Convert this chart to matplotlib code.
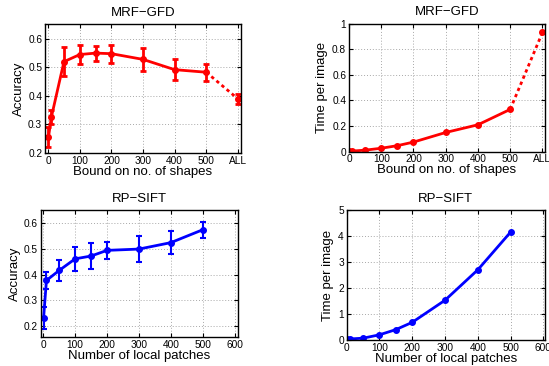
import matplotlib
matplotlib.use("Agg")
import matplotlib.pyplot as plt
import numpy as np

plt.rcParams['font.family'] = ['Liberation Sans', 'DejaVu Sans']

# MRF-GFD (top row)
mrf_x = [1, 10, 50, 100, 150, 200, 300, 400, 500]
mrf_all_x = 600
mrf_acc = [0.255, 0.325, 0.52, 0.545, 0.55, 0.548, 0.528, 0.492, 0.483]
mrf_acc_err = [0.035, 0.025, 0.05, 0.034, 0.026, 0.032, 0.04, 0.037, 0.03]
mrf_acc_all = 0.39
mrf_acc_all_err = 0.017
mrf_time = [0.003, 0.005, 0.012, 0.027, 0.047, 0.075, 0.15, 0.21, 0.33]
mrf_time_all = 0.93
mrf_xticks = [0, 100, 200, 300, 400, 500, 600]
mrf_xticklabels = ['0', '100', '200', '300', '400', '500', 'ALL']

# RP-SIFT (bottom row)
rp_x = [1, 10, 50, 100, 150, 200, 300, 400, 500]
rp_acc = [0.232, 0.378, 0.417, 0.462, 0.473, 0.495, 0.5, 0.525, 0.575]
rp_acc_err = [0.042, 0.033, 0.042, 0.046, 0.05, 0.033, 0.049, 0.045, 0.03]
rp_time = [0.03, 0.04, 0.07, 0.2, 0.4, 0.68, 1.53, 2.7, 4.15]
rp_xticks = [0, 100, 200, 300, 400, 500, 600]

W, H = 549, 366
fig = plt.figure(figsize=(W / 100, H / 100), dpi=100)

def ax_px(l, r, t, b):
    return fig.add_axes([l / W, (H - b) / H, (r - l) / W, (b - t) / H])

def style(ax):
    ax.grid(True, linestyle=(0, (1, 2)), color='#a8a8a8', linewidth=0.7)
    ax.tick_params(direction='in', length=3, width=0.8, top=True, right=True,
                   labelsize=7.3, pad=2)
    for s in ax.spines.values():
        s.set_linewidth(1.0)

title_fs = 9.5
label_fs = 9.5

# Top-left
ax = ax_px(45, 241, 24, 153)
ax.errorbar(mrf_x, mrf_acc, yerr=mrf_acc_err, color='red', lw=2, elinewidth=2,
            capsize=2.5, capthick=2, marker='o', ms=4)
ax.plot([mrf_x[-1], mrf_all_x], [mrf_acc[-1], mrf_acc_all], color='red', lw=2,
        linestyle=(0, (1.2, 1.2)))
ax.errorbar([mrf_all_x], [mrf_acc_all], yerr=[mrf_acc_all_err], color='red', lw=2,
            elinewidth=2, capsize=2.5, capthick=2, marker='o', ms=4)
ax.set_xlim(-10, 610)
ax.set_ylim(0.2, 0.652)
ax.set_xticks(mrf_xticks)
ax.set_xticklabels(mrf_xticklabels)
ax.set_yticks([0.2, 0.3, 0.4, 0.5, 0.6])
ax.set_title('MRF\u2212GFD', fontsize=title_fs, pad=6)
ax.set_xlabel('Bound on no. of shapes', fontsize=label_fs, labelpad=0)
ax.set_ylabel('Accuracy', fontsize=label_fs, labelpad=2)
style(ax)

# Top-right
ax = ax_px(349, 545, 23.5, 151.7)
ax.plot(mrf_x, mrf_time, color='red', lw=2, marker='o', ms=4)
ax.plot([mrf_x[-1], mrf_all_x], [mrf_time[-1], mrf_time_all], color='red', lw=2,
        linestyle=(0, (1.2, 1.2)))
ax.plot([mrf_all_x], [mrf_time_all], color='red', marker='o', ms=4)
ax.set_xlim(0, 608)
ax.set_ylim(0, 1)
ax.set_xticks(mrf_xticks)
ax.set_xticklabels(mrf_xticklabels)
ax.set_yticks([0, 0.2, 0.4, 0.6, 0.8, 1])
ax.set_yticklabels(['0', '0.2', '0.4', '0.6', '0.8', '1'])
ax.set_title('MRF\u2212GFD', fontsize=title_fs, pad=6)
ax.set_xlabel('Bound on no. of shapes', fontsize=label_fs, labelpad=0)
ax.set_ylabel('Time per image', fontsize=label_fs, labelpad=3)
style(ax)

# Bottom-left
ax = ax_px(40.7, 237.7, 210, 337)
ax.errorbar(rp_x, rp_acc, yerr=rp_acc_err, color='blue', lw=2, elinewidth=1.5,
            capsize=2.5, capthick=1.5, marker='o', ms=4)
ax.set_xlim(-8, 610)
ax.set_ylim(0.158, 0.652)
ax.set_xticks(rp_xticks)
ax.set_yticks([0.2, 0.3, 0.4, 0.5, 0.6])
ax.set_title('RP\u2212SIFT', fontsize=title_fs, pad=6)
ax.set_xlabel('Number of local patches', fontsize=label_fs, labelpad=0)
ax.set_ylabel('Accuracy', fontsize=label_fs, labelpad=2)
style(ax)

# Bottom-right
ax = ax_px(346.7, 545, 210, 340)
ax.plot(rp_x, rp_time, color='blue', lw=2, marker='o', ms=4)
ax.set_xlim(0, 605)
ax.set_ylim(0, 5)
ax.set_xticks(rp_xticks)
ax.set_yticks([0, 1, 2, 3, 4, 5])
ax.set_title('RP\u2212SIFT', fontsize=title_fs, pad=6)
ax.set_xlabel('Number of local patches', fontsize=label_fs, labelpad=0)
ax.set_ylabel('Time per image', fontsize=label_fs, labelpad=3)
style(ax)

fig.savefig('out.png', dpi=100)
